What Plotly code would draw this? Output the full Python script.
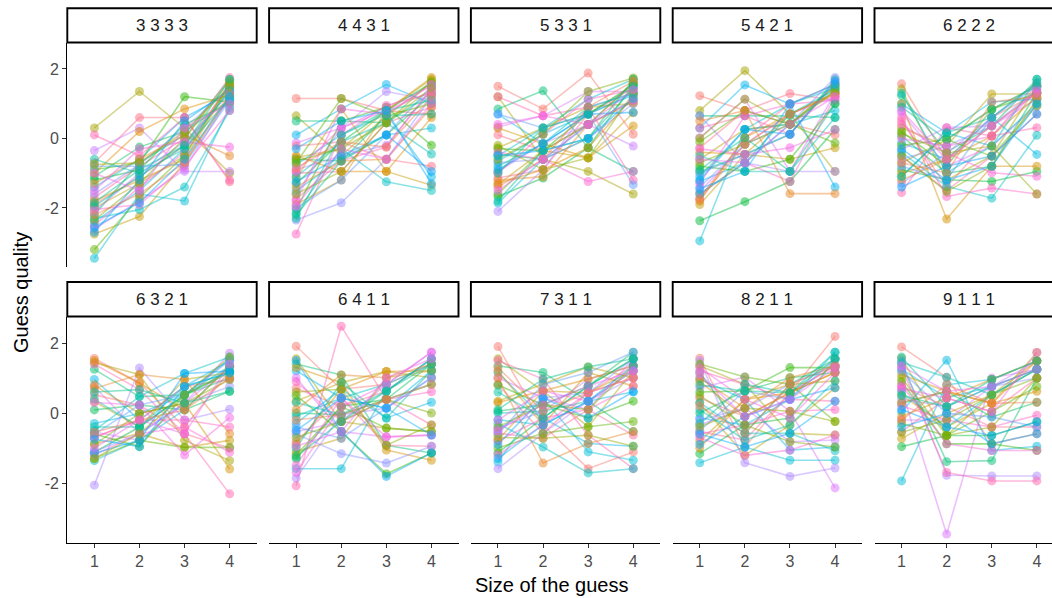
import math
import plotly.graph_objects as go

facet_labels = ["3 3 3 3", "4 4 3 1", "5 3 3 1", "5 4 2 1", "6 2 2 2",
                "6 3 2 1", "6 4 1 1", "7 3 1 1", "8 2 1 1", "9 1 1 1"]
sizes = [1, 2, 3, 4]
y_ticks = [-2, 0, 2]
y_tick_text = ["-2", "0", "2"]

p3333 = [(-1.9,-1.1,-0.2,1.5),(0.3,1.35,0.3,-1.0),(-2.2,-0.7,0.1,1.7),(-1.4,-0.6,0.6,1.3),
         (-2.6,-1.8,-0.9,1.2),(-0.7,0.6,0.6,-1.25),(-2.0,-1.3,-0.5,1.6),(-1.1,-0.25,0.2,1.1),
         (-2.4,-1.5,-0.3,1.4),(-0.35,0.3,-0.95,-0.95),(-1.7,-0.8,0.0,1.75),(-2.75,-2.25,-0.7,1.2),
         (-1.2,-0.9,0.4,1.0),(-3.45,-1.6,-1.8,0.9),(-2.1,-1.0,-0.1,1.3),(0.1,-0.5,0.6,-1.2),
         (-1.8,-1.2,-0.6,1.5),(-0.9,-0.7,1.2,1.05),(-2.3,-2.05,-1.4,0.8),(-1.6,-0.75,0.3,1.45),
         (-2.5,-1.4,-0.4,1.6),(-1.0,0.2,0.85,1.25),(-3.2,-1.7,-0.5,1.55),(-1.95,-1.1,-0.2,1.35),
         (-0.8,-0.8,-0.75,1.1),(-2.05,-1.9,-0.8,0.8),(-1.3,-0.6,0.1,-0.5),(-2.35,-1.3,0.0,1.65),
         (-0.6,-1.0,-0.3,1.15),(-2.7,-1.2,0.5,1.4),(-1.5,-0.3,-0.1,-0.25),(-2.2,-1.6,-0.7,1.3),
         (-0.75,-0.7,0.2,1.5),(-1.85,-0.9,-0.2,1.7),(-2.55,-1.85,-0.6,1.2),(-1.0,-1.5,0.3,1.0)]

p4431 = [(1.15,1.15,0.8,0.7),(0.65,-0.5,0.65,1.6),(0.5,0.5,0.45,1.3),(0.1,0.85,1.55,1.0),
         (-0.13,0.3,0.9,1.5),(-0.22,-0.1,-0.6,-0.8),(-0.55,-0.3,0.8,1.7),(-0.6,-0.65,0.1,1.25),
         (-0.75,0.1,0.7,-1.1),(-0.9,-0.5,-0.2,1.4),(-1.0,-0.95,0.45,0.9),(-1.15,0.85,-0.95,-1.35),
         (-1.3,-0.1,0.8,1.6),(-1.5,-0.6,0.1,0.3),(-1.6,0.3,1.35,1.1),(-1.75,-0.65,-0.25,1.45),
         (-1.9,-1.2,0.8,1.75),(-2.05,0.5,0.9,-0.2),(-2.15,-0.3,-1.25,-1.5),(-2.35,-1.85,-0.6,1.2),
         (-2.75,0.1,0.95,1.3),(-0.5,-0.95,-0.95,0.6),(-0.7,1.15,0.65,1.0),(-1.1,-0.1,0.45,-0.45),
         (-2.0,-1.2,0.1,1.5),(-0.95,0.3,0.8,1.35),(-1.4,-0.65,-0.6,0.9),(-0.65,-0.3,0.45,1.65),
         (-2.3,0.1,0.8,1.1),(-1.25,-0.5,0.1,-0.95),(-1.8,0.85,0.7,1.55),(-0.85,-0.1,-0.25,1.2),
         (-1.6,-0.95,0.45,1.45),(-2.2,-0.65,0.65,0.7),(-0.3,0.5,0.8,-1.3),(-1.95,-0.3,-0.6,1.0)]

p5331 = [(1.5,0.85,1.88,0.12),(1.2,-0.6,-0.95,-1.6),(0.85,1.37,-0.27,-0.95),(0.7,-0.15,0.7,1.3),
         (0.33,0.65,1.35,1.35),(0.1,-0.35,0.4,1.6),(-0.27,0.3,0.9,1.0),(-0.46,-0.6,0.0,1.7),
         (-0.66,0.12,0.7,1.25),(-0.95,-0.15,0.4,-0.22),(-1.14,-0.9,0.7,1.45),(-1.33,-0.35,-0.56,0.74),
         (-1.67,-1.14,-0.27,1.55),(-1.86,-0.6,0.4,1.1),(-2.1,-0.9,0.9,1.3),(1.2,0.65,0.9,-1.2),
         (0.3,-0.15,-0.56,0.36),(-0.3,-0.35,0.7,1.55),(-0.5,0.3,1.13,1.7),(-0.7,-0.6,0.0,1.0),
         (-1.0,0.12,1.13,1.4),(-1.3,-0.9,-0.27,1.2),(-1.6,-0.35,0.4,1.6),(-0.8,-0.15,0.9,1.3),
         (0.7,0.3,0.7,-1.33),(-0.4,-0.6,-1.24,-0.95),(-1.2,-1.1,0.4,1.05),(-0.6,0.12,1.35,1.74),
         (-1.8,-0.35,0.0,1.45),(-0.9,-0.15,0.7,0.75),(0.4,0.65,0.4,1.1),(-1.4,-0.6,0.9,1.65),
         (-0.2,-0.9,-0.56,1.3),(-1.0,0.3,0.7,1.5),(-0.5,-0.35,0.0,1.15),(-1.5,-0.6,0.4,1.4)]

p5421 = [(1.23,0.8,0.41,0.1),(0.8,1.95,0.7,-0.95),(0.65,0.65,0.65,0.6),(0.3,1.54,0.99,-1.4),
         (0.02,1.13,-0.95,1.3),(-0.27,0.8,1.29,1.1),(-0.6,0.26,0.41,1.5),(-0.95,-0.46,0.12,1.7),
         (-1.24,-0.7,0.41,1.4),(-1.53,-0.17,0.7,1.2),(-1.72,0.02,0.99,1.55),(-1.9,-0.46,-0.6,-0.27),
         (-2.37,-1.82,-1.24,0.26),(-2.95,0.26,0.41,0.8),(0.65,-0.7,-0.95,-0.95),(0.3,0.65,0.12,1.6),
         (-0.4,-0.46,0.7,1.3),(-0.8,-0.95,-0.6,1.0),(-1.1,0.26,0.99,1.45),(-1.4,-0.17,0.41,1.75),
         (-1.6,-0.7,-1.24,1.2),(-1.8,0.02,0.7,1.3),(-0.1,0.8,0.41,-0.13),(-0.5,-0.95,-0.95,0.6),
         (-1.0,-0.46,0.12,1.6),(-1.3,0.65,0.99,1.1),(0.5,0.8,-1.59,-1.59),(-0.7,-0.17,0.41,1.5),
         (-1.6,-0.7,0.7,1.4),(-1.2,0.26,0.12,1.65),(-0.3,-0.46,-0.27,0.25),(-1.75,-0.17,0.7,1.25),
         (0.0,1.13,0.41,1.35),(-0.9,0.02,-0.95,1.0),(-1.45,-0.95,0.99,1.55),(-0.6,-0.7,0.41,1.2)]

p6222 = [(1.57,-0.6,0.6,1.3),(1.42,-1.2,-0.5,1.5),(1.23,-0.4,0.36,1.7),(0.99,0.16,1.05,1.13),
         (0.74,-0.8,-0.22,0.94),(0.5,-1.4,0.07,1.52),(0.31,-0.22,1.28,1.28),(0.07,-1.0,-0.8,1.32),
         (-0.13,-0.6,0.6,-0.46),(-0.32,0.31,0.36,1.13),(-0.51,-1.5,-0.51,0.7),(-0.71,-0.03,0.84,1.5),
         (-0.9,-1.19,-1.24,-0.95),(-1.09,0.16,-0.22,1.0),(-1.29,-0.42,0.6,1.6),(-1.56,0.31,0.07,0.31),
         (1.0,-2.32,-0.8,-0.8),(0.2,-0.8,0.84,1.3),(-0.4,-1.38,-1.72,0.09),(-0.6,-0.22,0.36,1.4),
         (0.6,-1.67,-1.43,-1.6),(-1.0,-0.61,0.07,1.2),(-0.2,-0.03,-0.51,0.94),(1.3,-0.99,-0.22,1.7),
         (-0.8,-1.19,0.6,1.5),(0.4,-0.42,-0.99,-1.09),(-1.2,-0.61,0.36,1.32),(-0.5,-1.53,-0.8,1.13),
         (0.9,-0.03,0.84,1.5),(-1.4,-0.8,-0.51,0.7),(0.0,-0.22,0.07,1.4),(-0.7,-1.0,1.05,1.2),
         (0.15,-0.42,-0.22,-1.6),(-1.1,0.16,0.6,1.6),(-0.3,-1.2,-0.8,1.0),(0.8,-0.61,0.36,1.3)]

p6321 = [(1.56,0.86,-0.4,1.2),(1.44,1.1,-0.78,-1.36),(1.25,0.47,0.52,1.0),(0.96,-0.2,0.76,1.5),
         (0.76,-0.59,0.28,1.34),(0.52,0.23,-0.59,-1.0),(0.33,-0.4,0.96,1.15),(0.09,0.23,0.09,0.62),
         (-0.3,-0.01,0.52,1.54),(-0.54,-0.78,0.28,1.71),(-0.69,-0.2,0.76,0.96),(-0.88,-0.59,-0.98,-0.78),
         (-1.12,-0.4,0.52,1.15),(-1.36,-0.78,0.09,1.34),(-2.06,1.29,-0.2,0.11),(1.4,0.67,-0.59,-2.31),
         (0.8,-0.01,0.28,-1.6),(-0.6,-0.96,0.52,1.2),(-0.5,0.47,1.13,1.6),(-1.1,-0.59,0.28,0.76),
         (-0.7,-0.2,-0.2,-0.4),(1.5,0.86,0.09,1.34),(-1.3,-0.78,-0.98,-0.98),(0.4,-0.4,0.76,1.15),
         (-0.6,0.23,0.52,1.5),(-1.2,-0.59,-0.4,-1.12),(0.7,1.1,0.96,-0.59),(-0.9,-0.01,0.28,0.96),
         (-0.4,-0.4,0.52,1.34),(-1.15,-0.78,1.13,1.2),(0.3,0.23,-1.2,-0.13),(-0.55,-0.2,0.09,1.0),
         (-1.3,-0.59,0.52,1.6),(0.6,0.67,0.28,0.62),(-0.75,-0.96,0.76,1.15),(-1.0,-0.2,-0.59,1.4)]

p6411 = [(1.91,0.68,0.82,1.4),(1.55,-0.24,-0.43,-0.53),(1.4,1.09,-0.92,-1.14),(1.21,0.43,0.14,1.21),
         (1.01,-0.53,-0.68,-0.63),(0.71,0.19,0.63,1.55),(0.34,0.87,1.19,1.01),(0.0,-0.05,0.39,1.4),
         (-0.29,0.68,-0.14,0.31),(-0.53,-0.24,0.82,1.74),(-0.82,0.43,-0.92,-0.95),(-1.11,-0.72,1.01,1.21),
         (-1.3,0.19,0.39,0.82),(-1.59,-1.59,0.63,1.55),(-1.86,-0.05,0.14,1.01),(-2.08,2.48,0.39,-0.34),
         (1.3,0.87,-1.06,-1.35),(0.5,-0.53,-1.74,-1.14),(-0.1,0.43,0.82,1.4),(-0.6,-1.16,-1.43,-0.95),
         (0.9,-0.24,0.39,0.61),(-0.9,0.68,1.19,1.21),(-1.2,0.19,-0.43,-0.53),(0.3,-0.05,0.63,1.55),
         (-0.4,-0.72,0.14,1.01),(-1.5,0.43,-0.68,-0.63),(0.1,1.09,1.01,1.4),(-0.7,-0.24,0.39,0.0),
         (-1.0,0.87,-0.14,1.21),(1.5,-0.53,-1.81,-1.14),(-1.7,0.19,0.82,1.74),(-0.2,-0.05,0.39,0.82),
         (0.6,0.68,-0.92,-0.34),(-1.25,-0.24,0.63,1.4),(-0.5,0.43,0.14,-0.63),(-0.95,-0.53,1.01,1.55)]

p7311 = [(1.9,-0.34,-1.59,-1.11),(1.55,0.63,-0.39,1.21),(1.35,1.16,0.34,-0.53),(1.16,-0.14,-0.87,-0.95),
         (1.01,0.43,0.1,1.55),(0.82,-0.58,0.58,1.35),(0.34,0.82,1.32,1.01),(0.05,0.24,0.77,1.74),
         (-0.19,-0.34,0.34,0.61),(-0.43,0.05,0.97,1.35),(-0.58,-0.72,0.1,-0.63),(-0.77,0.63,0.58,1.21),
         (-1.14,-0.14,0.77,1.55),(-1.4,0.43,-1.11,-1.35),(-1.59,-0.58,0.34,1.01),(1.5,0.97,-0.63,-1.59),
         (1.2,-0.34,1.16,0.77),(0.8,0.24,-0.14,0.34),(-0.3,-0.97,-1.71,-1.59),(-0.5,0.43,0.58,1.55),
         (-0.8,-0.14,0.1,0.77),(0.3,0.63,0.97,1.35),(-1.0,-0.58,-0.39,-0.24),(0.0,0.05,0.34,1.21),
         (-0.6,0.82,1.16,1.74),(-1.2,-0.34,0.58,1.01),(1.0,-1.43,-0.87,-0.53),(-0.4,0.24,0.1,1.35),
         (0.6,-0.14,0.77,1.55),(-0.9,0.43,-0.14,0.61),(-0.2,0.63,0.34,1.21),(1.3,0.05,0.58,1.01),
         (-0.7,-0.72,-0.63,-0.95),(0.1,0.97,1.32,1.55),(-1.3,-0.34,0.34,1.35),(-0.5,0.24,0.77,1.21)]

p8211 = [(1.57,-0.97,0.58,2.19),(1.35,0.82,-0.58,-0.63),(1.16,-0.58,0.82,1.55),(0.97,0.39,-1.06,-0.97),
         (0.72,1.03,0.05,-2.14),(0.43,-0.1,0.58,1.35),(0.29,-1.21,-0.34,0.72),(0.0,0.63,1.01,1.16),
         (-0.14,-0.34,0.39,1.74),(-0.34,0.14,-0.82,-0.77),(-0.53,-0.77,0.58,1.35),(-0.8,0.39,0.82,0.92),
         (-1.16,-0.34,-0.14,1.55),(-1.42,-0.97,-1.35,-1.35),(1.5,-1.42,-1.81,-1.57),(1.2,0.82,0.39,0.34),
         (0.9,-0.1,0.58,1.16),(0.6,0.63,1.3,1.3),(0.3,-0.58,-0.58,-1.08),(-0.2,0.14,0.82,1.35),
         (-0.6,-0.34,0.05,0.1),(-1.0,0.39,0.58,1.16),(1.4,1.03,0.82,-0.24),(0.1,-0.77,-0.34,0.92),
         (-0.5,0.63,0.39,1.55),(-0.7,-1.21,-1.06,-0.63),(1.0,0.14,1.01,1.35),(0.5,-0.34,-0.82,-0.97),
         (-0.3,0.82,0.58,1.74),(-0.9,-0.1,0.39,0.72),(1.3,0.39,-0.14,1.16),(0.2,-0.58,0.82,1.35),
         (-0.4,0.14,0.05,-0.24),(0.8,0.63,0.58,1.55),(-0.6,-0.97,-0.58,0.34),(1.1,-0.1,0.39,1.3)]

p9111 = [(1.89,1.02,-0.88,-0.59),(1.57,-0.64,0.52,1.49),(1.39,-1.39,-1.36,1.0),(1.25,0.43,0.76,1.25),
         (0.67,-3.46,1.0,1.25),(0.76,0.18,-0.4,-0.4),(0.52,-0.4,0.28,1.73),(0.28,0.62,-0.11,0.31),
         (0.04,1.51,-1.07,-0.95),(-0.2,-0.2,0.76,1.49),(-0.54,0.43,0.04,1.0),(-0.73,-0.01,0.52,1.25),
         (-0.96,-0.64,-0.64,-0.25),(-1.94,0.81,0.96,1.49),(1.5,-1.78,-1.8,-1.8),(1.3,-1.7,-1.94,-1.94),
         (1.1,0.62,0.28,0.62),(0.9,-0.88,-0.88,-1.07),(0.6,-0.4,0.52,1.25),(0.4,0.18,0.76,1.0),
         (0.2,-0.2,-0.4,-0.06),(-0.1,0.43,0.96,1.49),(-0.3,-0.64,0.04,0.76),(1.45,1.02,0.52,1.25),
         (1.2,-0.01,-0.11,-0.4),(0.8,-0.88,-1.07,-1.07),(0.3,0.62,0.28,1.49),(-0.55,-0.2,0.52,1.0),
         (1.6,0.18,0.76,1.25),(0.1,-0.4,-0.64,-0.25),(0.7,0.43,0.04,1.73),(-0.2,0.81,0.28,0.31),
         (1.0,-0.64,-0.4,1.0),(0.5,0.18,0.96,1.49),(-0.4,-0.01,-0.88,-0.59),(1.35,0.62,0.76,1.25)]

facet_data = [p3333, p4431, p5331, p5421, p6222, p6321, p6411, p7311, p8211, p9111]


def hcl_rgb(h, c=100.0, l=65.0):
    Xn, Yn, Zn = 95.047, 100.0, 108.883
    un = 4 * Xn / (Xn + 15 * Yn + 3 * Zn)
    vn = 9 * Yn / (Xn + 15 * Yn + 3 * Zn)
    hr = math.radians(h)
    u, v = c * math.cos(hr), c * math.sin(hr)
    Y = Yn * ((l + 16) / 116) ** 3
    up = u / (13 * l) + un
    vp = v / (13 * l) + vn
    X = Y * 9 * up / (4 * vp)
    Z = Y * (12 - 3 * up - 20 * vp) / (4 * vp)
    X, Y, Z = X / 100, Y / 100, Z / 100
    r = 3.2404542 * X - 1.5371385 * Y - 0.4985314 * Z
    g = -0.9692660 * X + 1.8760108 * Y + 0.0415560 * Z
    b = 0.0556434 * X - 0.2040259 * Y + 1.0572252 * Z

    def gam(t):
        t = max(0.0, min(1.0, t))
        return 12.92 * t if t <= 0.0031308 else 1.055 * t ** (1 / 2.4) - 0.055
    return tuple(int(round(255 * gam(t))) for t in (r, g, b))


N = len(p3333)
hue_list = [15 + 360 * i / N for i in range(N)]
part_rgb = [hcl_rgb(hue_list[(i * 7) % N]) for i in range(N)]


def rgba(rgb, a):
    return f"rgba({rgb[0]},{rgb[1]},{rgb[2]},{a})"


W, H = 1052, 598
PW = 189.4
col_left = [67.3 + 201.8 * k for k in range(5)]
row_px = [(42.5, 267.0), (316.5, 542.5)]
strip_px = [(8.3, 42.5), (282.0, 316.5)]
UNIT = PW / 4.2
YR = [-3.70, 2.76]
FONT = "Liberation Sans, Arial, sans-serif"

fig = go.Figure()
layout = dict(width=W, height=H, margin=dict(l=0, r=0, t=0, b=0),
              paper_bgcolor="white", plot_bgcolor="white", showlegend=False,
              font=dict(family=FONT), hovermode=False)
shapes, annotations = [], []

for k, pdata in enumerate(facet_data):
    r, c = divmod(k, 5)
    idx = k + 1
    xa = "x" if idx == 1 else f"x{idx}"
    ya = "y" if idx == 1 else f"y{idx}"
    left = col_left[c]
    right = min(left + PW, W)
    xr = [0.4, 0.4 + (right - left) / UNIT]
    top, bot = row_px[r]
    bottom_row = (r == 1)
    left_col = (c == 0)
    layout["xaxis" if idx == 1 else f"xaxis{idx}"] = dict(
        domain=[left / W, right / W], anchor=ya, range=xr,
        tickvals=sizes, ticktext=[str(s) for s in sizes],
        showticklabels=bottom_row, showline=bottom_row,
        ticks="outside" if bottom_row else "", ticklen=4, tickwidth=1.1, tickcolor="#333333",
        linecolor="black", linewidth=1.2, showgrid=False, zeroline=False,
        tickfont=dict(size=16, color="#4D4D4D", family=FONT), fixedrange=True)
    layout["yaxis" if idx == 1 else f"yaxis{idx}"] = dict(
        domain=[1 - bot / H, 1 - top / H], anchor=xa, range=YR,
        tickvals=y_ticks, ticktext=y_tick_text,
        showticklabels=left_col, showline=left_col,
        ticks="outside" if left_col else "", ticklen=4, tickwidth=1.1, tickcolor="#333333",
        linecolor="black", linewidth=1.2, showgrid=False, zeroline=False,
        tickfont=dict(size=16, color="#4D4D4D", family=FONT), fixedrange=True)

    for j, vals in enumerate(pdata):
        fig.add_trace(go.Scatter(x=sizes, y=list(vals), mode="lines", xaxis=xa, yaxis=ya,
                                 line=dict(color=rgba(part_rgb[j], 0.45), width=1.6),
                                 hoverinfo="skip", showlegend=False))
    xs, ys, cs = [], [], []
    for j, vals in enumerate(pdata):
        for s, v in zip(sizes, vals):
            xs.append(s)
            ys.append(v)
            cs.append(rgba(part_rgb[j], 0.5))
    fig.add_trace(go.Scatter(x=xs, y=ys, mode="markers", xaxis=xa, yaxis=ya,
                             marker=dict(color=cs, size=9, line=dict(width=0)),
                             hoverinfo="skip", showlegend=False))

    st, sb = strip_px[r]
    shapes.append(dict(type="rect", xref="paper", yref="paper",
                       x0=left / W, x1=(left + PW) / W, y0=1 - sb / H, y1=1 - st / H,
                       line=dict(color="black", width=1.9), fillcolor="white", layer="above"))
    annotations.append(dict(text=facet_labels[k], xref="paper", yref="paper",
                            x=(left + PW / 2) / W, y=1 - (st + sb) / 2 / H,
                            showarrow=False, xanchor="center", yanchor="middle",
                            font=dict(size=17, color="#1A1A1A", family=FONT)))

annotations.append(dict(text="Guess quality", xref="paper", yref="paper", x=21 / W, y=1 - 293 / H,
                        textangle=-90, showarrow=False, xanchor="center", yanchor="middle",
                        font=dict(size=20, color="black", family=FONT)))
annotations.append(dict(text="Size of the guess", xref="paper", yref="paper", x=551 / W, y=1 - 585 / H,
                        showarrow=False, xanchor="center", yanchor="middle",
                        font=dict(size=20, color="black", family=FONT)))

layout["shapes"] = shapes
layout["annotations"] = annotations
fig.update_layout(**layout)

fig.write_html("out.html", config={"displayModeBar": False},
               post_script="document.body.style.margin='0';document.body.style.overflow='hidden';")
